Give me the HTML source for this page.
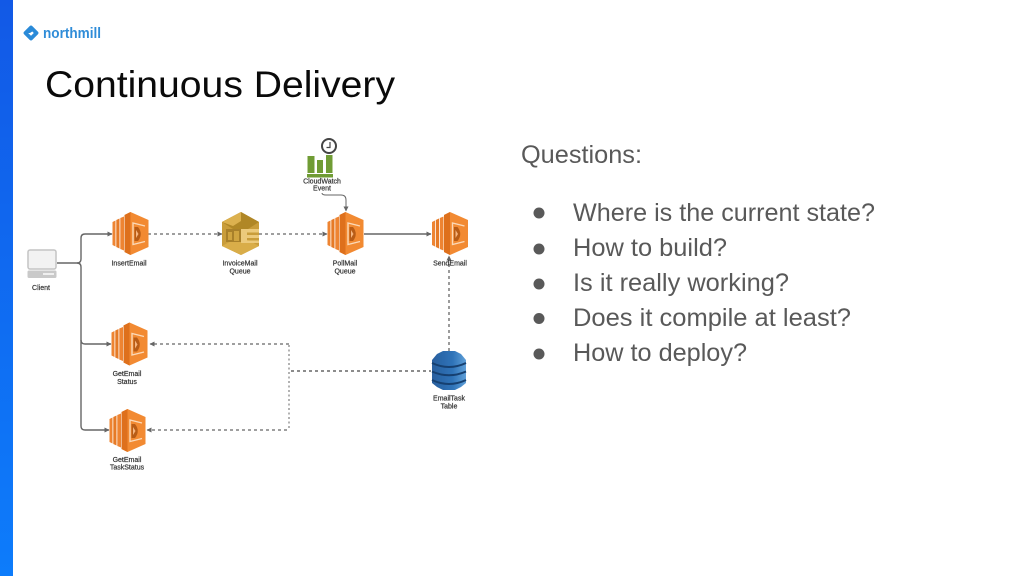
<!DOCTYPE html>
<html>
<head>
<meta charset="utf-8">
<style>
html,body{margin:0;padding:0;background:#fff;width:1024px;height:576px;overflow:hidden}
svg{display:block;font-family:"Liberation Sans",sans-serif}
.l{font-size:7px;fill:#333;text-anchor:middle;stroke:#333;stroke-width:.2}
.b{font-size:25px;fill:#595959}
</style>
</head>
<body>
<svg width="1024" height="576" viewBox="0 0 1024 576" xmlns="http://www.w3.org/2000/svg">
<defs>
<linearGradient id="bar" x1="0" y1="0" x2="0" y2="1">
<stop offset="0" stop-color="#1259e6"/><stop offset="1" stop-color="#0d7cfb"/>
</linearGradient>
<linearGradient id="ddb" x1="0" y1="0" x2="1" y2="0">
<stop offset="0" stop-color="#2a5f9e"/><stop offset=".6" stop-color="#2e73b8"/><stop offset="1" stop-color="#5f9fd8"/>
</linearGradient>
<filter id="soft" x="-2%" y="-2%" width="104%" height="104%"><feGaussianBlur stdDeviation="0.35"/></filter>
<marker id="a" markerWidth="6" markerHeight="6" refX="4.5" refY="2.5" orient="auto" markerUnits="userSpaceOnUse">
<path d="M0 0L5 2.5L0 5z" fill="#666"/>
</marker>
<g id="lam">
<path d="M0 10L3 8.500V34.500L0 33z" fill="#ee8430"/>
<path d="M3.800 8L7 6.500V36.500L3.800 35z" fill="#e67a26"/>
<path d="M7.800 6L11.500 4.500V38.500L7.800 37z" fill="#ee8430"/>
<path d="M12 3L18 0L36 8V35L18 43L12 40z" fill="#f28a30"/>
<path d="M12 3L18 0V43L12 40z" fill="#de6f1c"/>
<path d="M32.500 14L20.500 11V32.500L32.500 29.500" fill="none" stroke="#fbd9b8" stroke-width="1.400"/>
<path d="M22 15H25.500Q31 22 25.500 29H22z" fill="#b85c15"/>
<path d="M23.500 18L26 22L23.500 26z" fill="#f5b57f"/>
</g>
</defs>

<rect width="1024" height="576" fill="#fff"/>
<rect x="0" y="0" width="13" height="576" fill="url(#bar)"/>

<!-- logo -->
<path d="M31 27.500L36.500 33L31 38.500L25.500 33z" fill="#fff" stroke="#2a8ad8" stroke-width="3.800" stroke-linejoin="round"/>
<path d="M27 33L31 29L33 31L30 33z" fill="#2a8ad8"/>
<text x="43" y="38" font-size="14.500" font-weight="700" fill="#2f8cd8" textLength="58" lengthAdjust="spacingAndGlyphs">northmill</text>

<!-- title -->
<text x="45" y="97" font-size="37.500" fill="#0a0a0a" textLength="350" lengthAdjust="spacingAndGlyphs">Continuous Delivery</text>

<!-- right text -->
<text class="b" x="521" y="163" textLength="121" lengthAdjust="spacingAndGlyphs">Questions:</text>
<circle cx="539" cy="213" r="5.500" fill="#595959"/>
<circle cx="539" cy="249" r="5.500" fill="#595959"/>
<circle cx="539" cy="284" r="5.500" fill="#595959"/>
<circle cx="539" cy="318.500" r="5.500" fill="#595959"/>
<circle cx="539" cy="354" r="5.500" fill="#595959"/>
<text class="b" x="573" y="221" textLength="302" lengthAdjust="spacingAndGlyphs">Where is the current state?</text>
<text class="b" x="573" y="256" textLength="154" lengthAdjust="spacingAndGlyphs">How to build?</text>
<text class="b" x="573" y="291" textLength="216" lengthAdjust="spacingAndGlyphs">Is it really working?</text>
<text class="b" x="573" y="326" textLength="278" lengthAdjust="spacingAndGlyphs">Does it compile at least?</text>
<text class="b" x="573" y="361" textLength="174" lengthAdjust="spacingAndGlyphs">How to deploy?</text>

<g filter="url(#soft)">
<!-- solid connectors -->
<g fill="none" stroke="#666" stroke-width="1.400">
<path d="M57 263H77Q81 263 81 259V238Q81 234 85 234H112" marker-end="url(#a)"/>
<path d="M77 263Q81 263 81 267V340Q81 344 85 344H111" marker-end="url(#a)"/>
<path d="M81 340V426Q81 430 85 430H109" marker-end="url(#a)"/>
<path d="M364 234H431" marker-end="url(#a)"/>
<path d="M322 193Q322 195 326 195H341Q346 195 346 200V211" stroke-width="1" marker-end="url(#a)"/>
</g>
<!-- dashed connectors -->
<g fill="none" stroke="#666" stroke-width="1.300" stroke-dasharray="3 3">
<path d="M148 234H222" marker-end="url(#a)"/>
<path d="M259 234H327" marker-end="url(#a)"/>
<path d="M449 351V256" marker-end="url(#a)"/>
<path d="M289 344H150" marker-end="url(#a)"/>
<path d="M287 430H147" marker-end="url(#a)"/>
<path d="M289 345V429" stroke-width="1" stroke-dasharray="2 2.500"/>
<path d="M291 371H431" stroke-width="1.500"/>
</g>

<!-- client -->
<rect x="28" y="250" width="28" height="19" rx="2" fill="#f2f2f2" stroke="#c4c4c4" stroke-width="1.500"/>
<rect x="27.500" y="270.500" width="29" height="7.500" rx="1.500" fill="#c9c9c9"/>
<rect x="43" y="273" width="11" height="2" fill="#efefef"/>

<!-- lambdas -->
<use href="#lam" x="112.500" y="212"/>
<use href="#lam" x="327.500" y="212"/>
<use href="#lam" x="432" y="212"/>
<use href="#lam" x="111.500" y="322.500"/>
<use href="#lam" x="109.500" y="409"/>

<!-- SQS -->
<path d="M241 212L259 222V246L241 255L222 246V222z" fill="#c99d3a"/>
<path d="M241 212L259 222L248 229H233L222 222z" fill="#b08728"/>
<path d="M241 212V221L233 226L222 222z" fill="#dcb14f"/>
<path d="M222 246L233 240H248L259 246L241 255z" fill="#d9ad48"/>
<rect x="226" y="229" width="15" height="13" fill="#a88029"/>
<rect x="228" y="232" width="4" height="8" fill="#cfa440"/>
<rect x="234" y="231" width="5" height="10" fill="#cfa440"/>
<path d="M241 229H259V232.500H247V235H259V238H247V240.500H259V243H241z" fill="#ecca7c"/>

<!-- cloudwatch -->
<rect x="307.500" y="156" width="7" height="17" fill="#6f9c35"/>
<rect x="317" y="160" width="6" height="13" fill="#6f9c35"/>
<rect x="326" y="155" width="6.500" height="18" fill="#6f9c35"/>
<rect x="307" y="174" width="26" height="3.500" fill="#6f9c35"/>
<circle cx="329" cy="146" r="7" fill="#fff" stroke="#444" stroke-width="2"/>
<path d="M330 142V147.500H326.500" fill="none" stroke="#444" stroke-width="1.200"/>

<!-- dynamodb -->
<path d="M437 354L443 351H455L461 354L466 360V383L461 387L455 390H443L437 387L432 383V360z" fill="url(#ddb)"/>
<path d="M432 363Q449 371 466 363M432 371.500Q449 379 466 371.500M432 380Q449 388 466 380" fill="none" stroke="#173f70" stroke-width="2"/>

<!-- labels -->
<g>
<text class="l" x="41" y="290">Client</text>
<text class="l" x="129" y="265.500">InsertEmail</text>
<text class="l" x="240" y="265.500">InvoiceMail</text>
<text class="l" x="240" y="273.500">Queue</text>
<text class="l" x="345" y="265.500">PollMail</text>
<text class="l" x="345" y="273.500">Queue</text>
<text class="l" x="450" y="265.500">SendEmail</text>
<text class="l" x="322" y="183.500">CloudWatch</text>
<text class="l" x="322" y="190.500">Event</text>
<text class="l" x="127" y="376">GetEmail</text>
<text class="l" x="127" y="384">Status</text>
<text class="l" x="127" y="462">GetEmail</text>
<text class="l" x="127" y="469.500">TaskStatus</text>
<text class="l" x="449" y="400.500">EmailTask</text>
<text class="l" x="449" y="408.500">Table</text>
</g>
</g>
</svg>
</body>
</html>
